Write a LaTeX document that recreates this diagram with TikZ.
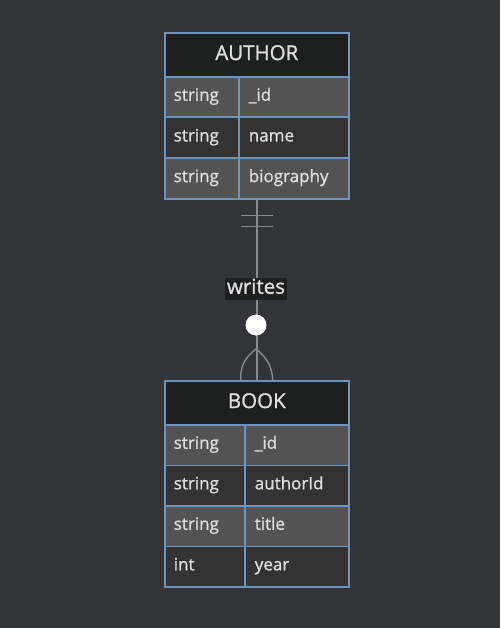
\documentclass[tikz,border=0pt]{standalone}
\usepackage{fontspec}
\setmainfont{Open Sans}[FakeBold=1.2,UprightFeatures={FakeBold=1.2}]
\definecolor{canvas}{HTML}{333438}
\definecolor{headfill}{HTML}{1E1F1F}
\definecolor{rowlight}{HTML}{535353}
\definecolor{rowdark}{HTML}{333333}
\definecolor{edge}{HTML}{6F94B8}
\definecolor{ink}{HTML}{DDDDDD}
\definecolor{relline}{HTML}{8A8A8A}
\tikzset{
  cell/.style={draw=edge, line width=1.6pt, anchor=north west, inner sep=0pt,
    text=ink, font=\fontsize{17}{19}\selectfont, text height=11.5pt, text depth=4pt},
  head/.style={cell, fill=headfill, minimum width=184pt, minimum height=44pt,
    font=\fontsize{20.5}{23}\selectfont, text height=14.5pt, text depth=4pt},
  typecell/.style={cell, text width=#1-18pt, minimum width=#1, align=left, minimum height=40.5pt},
  namecell/.style={cell, text width=#1-20pt, minimum width=#1, align=left, minimum height=40.5pt},
  frame/.style={draw=edge, line width=1.6pt, anchor=north west, inner sep=0pt},
  rel/.style={draw=relline, line width=1.4pt},
}
\begin{document}
\begin{tikzpicture}[x=1pt,y=-1pt]
\fill[canvas] (0,0) rectangle (500,628);
\useasboundingbox (0,0) rectangle (500,628);
% AUTHOR
\node[head] (authorhead) at (164,32) {AUTHOR};
\node[typecell=74pt, fill=rowlight] (a1t) at (164,76) {string};
\node[namecell=110pt, fill=rowlight] (a1n) at (238,76) {\_id};
\node[typecell=74pt, fill=rowdark] (a2t) at (164,116.6) {string};
\node[namecell=110pt, fill=rowdark] (a2n) at (238,116.6) {name};
\node[typecell=74pt, fill=rowlight] (a3t) at (164,157.3) {string};
\node[namecell=110pt, fill=rowlight] (a3n) at (238,157.3) {biography};
\node[frame, minimum width=184pt, minimum height=166pt] (author) at (164,32) {};
% BOOK
\node[head] (bookhead) at (164,380) {BOOK};
\node[typecell=80pt, fill=rowlight] (b1t) at (164,424) {string};
\node[namecell=104pt, fill=rowlight] (b1n) at (244,424) {\_id};
\node[typecell=80pt, fill=rowdark] (b2t) at (164,464.5) {string};
\node[namecell=104pt, fill=rowdark] (b2n) at (244,464.5) {authorId};
\node[typecell=80pt, fill=rowlight] (b3t) at (164,505) {string};
\node[namecell=104pt, fill=rowlight] (b3n) at (244,505) {title};
\node[typecell=80pt, fill=rowdark] (b4t) at (164,545.5) {int};
\node[namecell=104pt, fill=rowdark] (b4n) at (244,545.5) {year};
\node[frame, minimum width=184pt, minimum height=206pt] (book) at (164,380) {};
% relationship
\draw[rel] (author.south) -- (book.north);
\draw[rel] ([xshift=-16pt,yshift=-16pt]author.south) -- ([xshift=16pt,yshift=-16pt]author.south);
\draw[rel] ([xshift=-16pt,yshift=-27pt]author.south) -- ([xshift=16pt,yshift=-27pt]author.south);
\coordinate (foot) at (256,349);
\draw[rel] (foot) .. controls (244,358) and (240,368) .. ([xshift=-16pt]book.north);
\draw[rel] (foot) .. controls (268,358) and (272,368) .. ([xshift=16pt]book.north);
\node[fill=white, circle, minimum size=21pt, inner sep=0pt] (zero) at (256,325) {};
\node[fill=headfill, text=ink, inner sep=1.5pt, text height=14.5pt, text depth=5pt,
  font=\fontsize{20.5}{23}\selectfont] (writes) at (256,289) {writes};
\end{tikzpicture}
\end{document}
